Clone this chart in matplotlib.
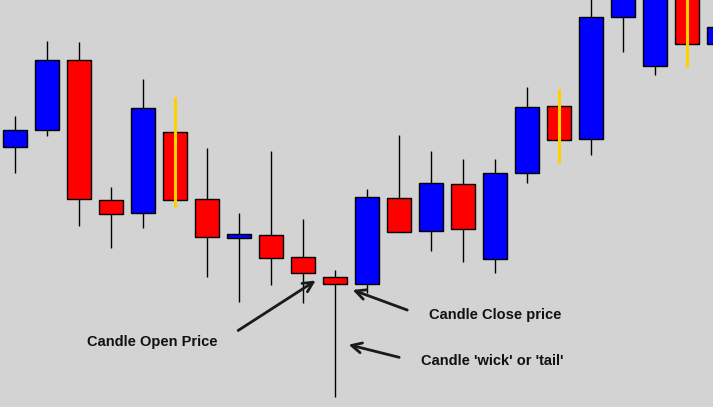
import matplotlib
matplotlib.use("Agg")
from matplotlib import pyplot as plt
import numpy as np

# candle data (price levels)
opens  = [260, 277, 347, 207, 194, 275, 208, 169, 172, 150, 130, 123, 209, 176, 223, 148, 234, 301, 268, 390, 341, 440, 363]
closes = [277, 347, 208, 193, 299, 207, 170, 173, 149, 134, 123, 210, 175, 224, 178, 234, 300, 267, 390, 440, 430, 363, 380]
highs  = [291, 366, 365, 220, 328, 310, 259, 194, 256, 188, 137, 218, 272, 256, 248, 248, 320, 318, 420, 460, 450, 460, 395]
lows   = [234, 271, 181, 159, 179, 200, 130, 105, 122, 104, 10, 114, 175, 156, 145, 134, 224, 244, 252, 355, 332, 340, 360]
yellow_wicks = [5, 17, 21]

x = np.arange(len(opens))
opens = np.array(opens)
closes = np.array(closes)

fig = plt.figure(figsize=(7.13, 4.07), dpi=100)
fig.patch.set_facecolor('#d3d3d3')
ax = fig.add_axes([0, 0, 1, 1])
ax.set_facecolor('#d3d3d3')

# wicks
for i in x:
    if i in yellow_wicks:
        ax.vlines(i, lows[i], highs[i], color='#ffd000', lw=2.2, zorder=3)
    else:
        ax.vlines(i, lows[i], highs[i], color='black', lw=1.0, zorder=1)

# bodies
colors = ['#0000ff' if c >= o else '#ff0000' for o, c in zip(opens, closes)]
ax.bar(x, closes - opens, bottom=opens, width=0.75, color=colors,
       edgecolor='black', linewidth=1.0, zorder=2)

ax.set_xlim(-15 / 32, (713 - 15) / 32)
ax.set_ylim(0, 407)
ax.axis('off')

# annotations
arrow = dict(arrowstyle='->', lw=2, color='#1a1a1a', mutation_scale=18)
font = dict(family='Liberation Sans', weight='bold', size=10.5, color='#111111')

ax.annotate('', xy=(9.47, 128), xytext=(6.9, 75), arrowprops=arrow)
ax.text(2.25, 65, 'Candle Open Price', va='center', ha='left', **font)

ax.annotate('', xy=(10.47, 118), xytext=(12.34, 96), arrowprops=arrow)
ax.text(12.94, 92, 'Candle Close price', va='center', ha='left', **font)

ax.annotate('', xy=(10.34, 63), xytext=(12.09, 49), arrowprops=arrow)
ax.text(12.69, 46, "Candle 'wick' or 'tail'", va='center', ha='left', **font)

fig.savefig('out.png', dpi=100, facecolor=fig.get_facecolor())
